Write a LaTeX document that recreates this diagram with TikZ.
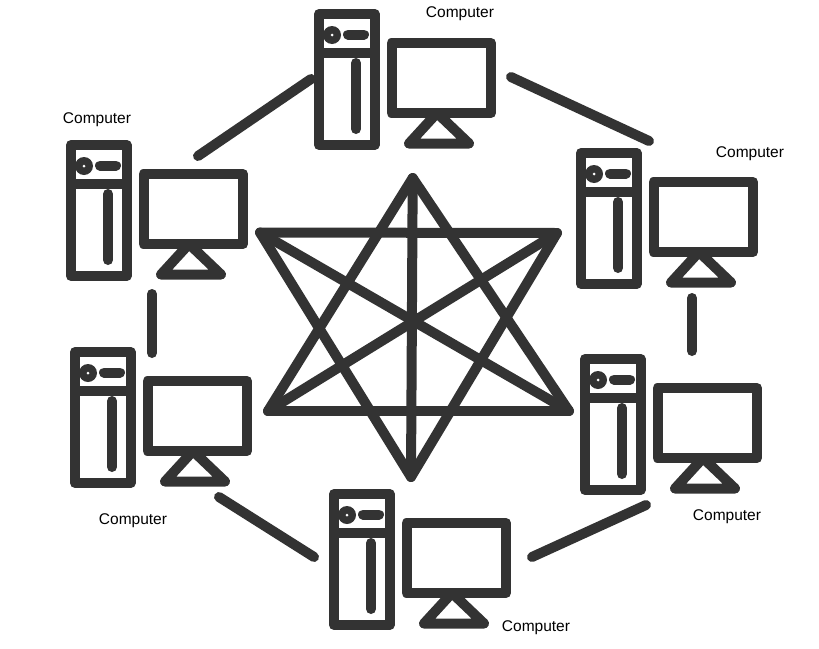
\documentclass[tikz,border=0pt]{standalone}
\usepackage{fontspec}
\setmainfont{Liberation Sans}
\definecolor{inkgray}{HTML}{333333}
\tikzset{
    wire/.style={line width=10pt, inkgray, line cap=round, line join=round},
    label/.style={font=\fontsize{15.5}{18}\selectfont, text=black, inner sep=0pt},
    computer/.pic={
        % tower
        \draw[wire] (0, 0) rectangle (55.6, 131);
        \draw[wire] (0, 39) -- (55.6, 39);
        \fill[inkgray] (13, 21) circle (9);
        \fill[white] (13, 21) circle (1.5);
        \draw[wire] (29, 20.5) -- (45, 20.5);
        \draw[wire] (37, 49) -- (37, 115);
        % monitor
        \draw[wire] (72.5, 29) rectangle (172, 99);
        \draw[wire] (118, 99) -- (90, 129.5) -- (150, 129.5) -- cycle;
    }
}
\begin{document}
\begin{tikzpicture}[x=1pt, y=-1pt]
    \useasboundingbox (0, 0) rectangle (819, 648);
    \fill[white] (0, 0) rectangle (819, 648);

    % computers
    \pic at (319, 14) {computer};
    \pic at (71, 145) {computer};
    \pic at (581, 153) {computer};
    \pic at (585, 359) {computer};
    \pic at (334, 494) {computer};
    \pic at (75, 352) {computer};

    % labels
    \node[label] (topLabel) at (460, 14) {Computer};
    \node[label] (leftLabel) at (97, 120) {Computer};
    \node[label] (rightLabel) at (750, 154) {Computer};
    \node[label] (lowRightLabel) at (727, 517) {Computer};
    \node[label] (lowLeftLabel) at (133, 521) {Computer};
    \node[label] (bottomLabel) at (536, 628) {Computer};

    % ring ends
    \coordinate (topE) at (511, 77);
    \coordinate (rightN) at (649, 141);
    \coordinate (rightS) at (692, 298);
    \coordinate (lowRightN) at (692, 351);
    \coordinate (lowRightS) at (646, 505);
    \coordinate (bottomE) at (532, 557);
    \coordinate (bottomW) at (314, 557);
    \coordinate (lowLeftS) at (219, 497);
    \coordinate (lowLeftN) at (152, 353);
    \coordinate (leftS) at (152, 294);
    \coordinate (leftN) at (198, 156);
    \coordinate (topW) at (311, 79);

    % ring
    \draw[wire] (topE) -- (rightN);
    \draw[wire] (rightS) -- (lowRightN);
    \draw[wire] (lowRightS) -- (bottomE);
    \draw[wire] (bottomW) -- (lowLeftS);
    \draw[wire] (lowLeftN) -- (leftS);
    \draw[wire] (leftN) -- (topW);

    % star points
    \coordinate (starN) at (412.7, 178);
    \coordinate (starUL) at (260, 232.5);
    \coordinate (starUR) at (557, 233);
    \coordinate (starLL) at (268, 411);
    \coordinate (starLR) at (569, 411);
    \coordinate (starS) at (411, 477);

    % star
    \draw[wire] (starN) -- (starS);
    \draw[wire] (starUL) -- (starUR);
    \draw[wire] (starLL) -- (starLR);
    \draw[wire] (starN) -- (starLL);
    \draw[wire] (starN) -- (starLR);
    \draw[wire] (starS) -- (starUL);
    \draw[wire] (starS) -- (starUR);
    \draw[wire] (starUL) -- (starLR);
    \draw[wire] (starUR) -- (starLL);
\end{tikzpicture}
\end{document}
